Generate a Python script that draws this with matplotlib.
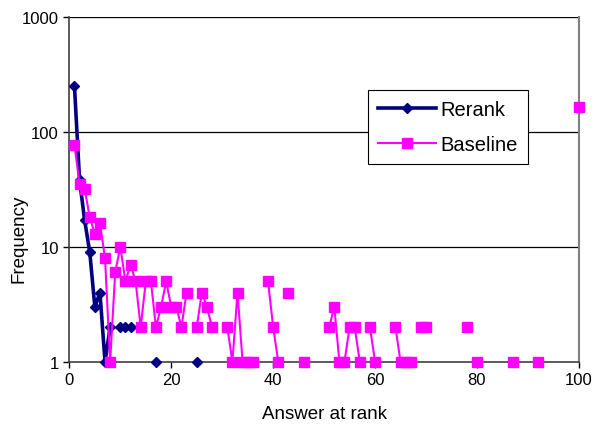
import matplotlib
matplotlib.use("Agg")
import matplotlib.pyplot as plt
import numpy as np

plt.rcParams['font.family'] = ['Liberation Sans', 'DejaVu Sans']

# rank -> frequency, missing ranks are gaps (zero counts)
rerank_vals = {1: 250, 2: 38, 3: 17, 4: 9, 5: 3, 6: 4, 7: 1, 8: 2,
               10: 2, 11: 2, 12: 2, 17: 1, 25: 1}
baseline_vals = {1: 77, 2: 35, 3: 32, 4: 18, 5: 13, 6: 16, 7: 8, 8: 1, 9: 6,
                 10: 10, 11: 5, 12: 7, 13: 5, 14: 2, 15: 5, 16: 5, 17: 2,
                 18: 3, 19: 5, 20: 3, 21: 3, 22: 2, 23: 4, 25: 2, 26: 4,
                 27: 3, 28: 2, 31: 2, 32: 1, 33: 4, 34: 1, 35: 1, 36: 1,
                 39: 5, 40: 2, 41: 1, 43: 4, 46: 1, 51: 2, 52: 3, 53: 1,
                 54: 1, 55: 2, 56: 2, 57: 1, 59: 2, 60: 1, 64: 2, 65: 1,
                 66: 1, 67: 1, 69: 2, 70: 2, 78: 2, 80: 1, 87: 1, 92: 1,
                 100: 166}

ranks = np.arange(1, 101)
rerank = np.array([rerank_vals.get(r, np.nan) for r in ranks], dtype=float)
baseline = np.array([baseline_vals.get(r, np.nan) for r in ranks], dtype=float)

fig = plt.figure(figsize=(5.98, 4.35), dpi=100)
ax = fig.add_axes([0.116, 0.166, 0.852, 0.793])

ax.set_yscale('log')
ax.set_xlim(0, 100)
ax.set_ylim(1, 1000)

for y in [10, 100, 1000]:
    ax.axhline(y, color='black', linewidth=0.9, zorder=1)

ax.plot(ranks, rerank, '-D', color='#000080', linewidth=2.6, markersize=5.5,
        label='Rerank', clip_on=False, zorder=3)
ax.plot(ranks, baseline, '-s', color='#FF00FF', linewidth=1.5, markersize=7,
        label='Baseline', clip_on=False, zorder=4)

ax.set_xticks([0, 20, 40, 60, 80, 100])
ax.set_yticks([1, 10, 100, 1000])
ax.set_yticklabels(['1', '10', '100', '1000'])
ax.yaxis.set_minor_locator(matplotlib.ticker.NullLocator())
ax.tick_params(axis='both', labelsize=12, direction='out', length=4,
               color='black', width=1)

ax.spines['top'].set_visible(False)
ax.spines['right'].set_color('#808080')
ax.spines['right'].set_linewidth(1.5)
ax.spines['left'].set_linewidth(1.2)
ax.spines['bottom'].set_linewidth(1.2)
ax.spines['bottom'].set_color('#404040')
ax.spines['left'].set_color('#404040')

ax.set_xlabel('Answer at rank', fontsize=13.5)
ax.set_ylabel('Frequency', fontsize=13.5)
ax.xaxis.set_label_coords(0.5, -0.125)
ax.yaxis.set_label_coords(-0.082, 0.36)

leg = ax.legend(loc='upper left', bbox_to_anchor=(0.586, 0.788), fontsize=14.5,
                frameon=True, fancybox=False, edgecolor='black',
                framealpha=1, borderpad=0.5, handlelength=2.9,
                handletextpad=0.2, labelspacing=0.8, borderaxespad=0)
leg.get_frame().set_linewidth(0.8)

fig.savefig('out.png', dpi=100)
